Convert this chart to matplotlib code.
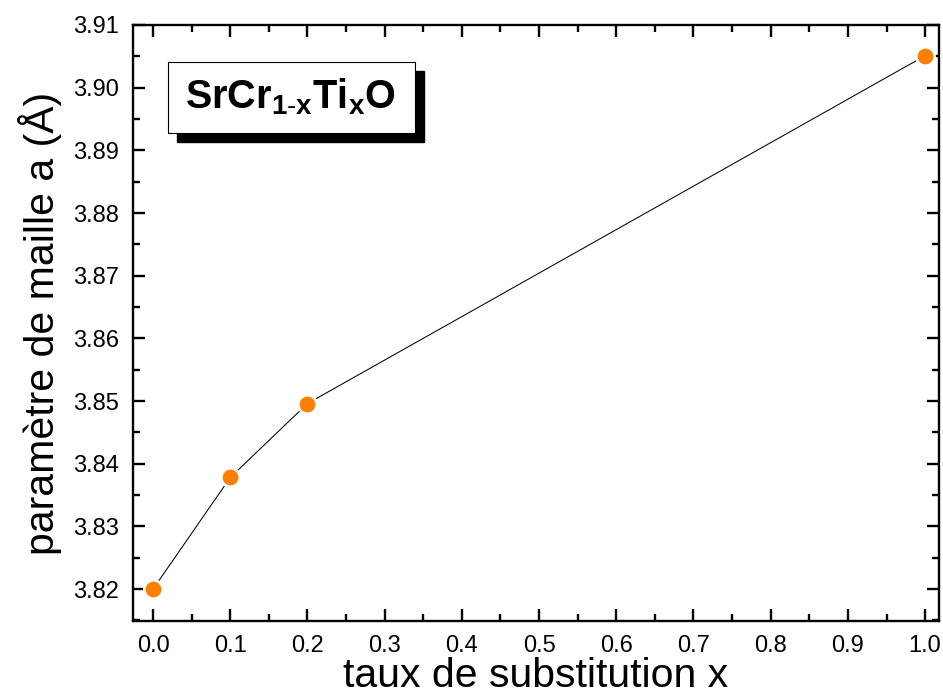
import matplotlib
matplotlib.use("Agg")
import matplotlib.pyplot as plt
from matplotlib.ticker import MultipleLocator, FormatStrFormatter
from matplotlib.patches import Rectangle

plt.rcParams['font.family'] = ['Liberation Sans', 'DejaVu Sans']
plt.rcParams['mathtext.fontset'] = 'custom'
plt.rcParams['mathtext.rm'] = 'Liberation Sans'
plt.rcParams['mathtext.bf'] = 'Liberation Sans:bold'

x_values = [0.0, 0.1, 0.2, 1.0]
a_values = [3.8200, 3.8378, 3.8496, 3.9051]
x_label = "taux de substitution x"
y_label = "paramètre de maille a (Å)"
title_text = r"$\mathbf{SrCr_{1\text{-}x}Ti_xO}$"

W, H = 943, 700
fig = plt.figure(figsize=(W / 100, H / 100), dpi=100)
ax = fig.add_axes([133 / W, 1 - 621 / H, (939 - 133) / W, (621 - 25) / H])

ax.plot(x_values, a_values, color='black', lw=0.75, zorder=2)
ax.plot(x_values, a_values, ls='none', marker='o', ms=13.2, mfc='#FF8000',
        mec='white', mew=1.8, zorder=3)

ax.set_xlim(-0.026, 1.018)
ax.set_ylim(3.8149, 3.91)
ax.xaxis.set_major_locator(MultipleLocator(0.1))
ax.xaxis.set_minor_locator(MultipleLocator(0.05))
ax.yaxis.set_major_locator(MultipleLocator(0.01))
ax.yaxis.set_minor_locator(MultipleLocator(0.005))
ax.xaxis.set_major_formatter(FormatStrFormatter('%.1f'))
ax.yaxis.set_major_formatter(FormatStrFormatter('%.2f'))
ax.tick_params(which='both', direction='in', top=True, right=True, width=1.7)
ax.tick_params(which='major', length=8.5, labelsize=17, pad=10)
ax.tick_params(which='minor', length=5)
for s in ax.spines.values():
    s.set_linewidth(1.7)
ax.set_axisbelow(False)

ax.set_xlabel(x_label, fontsize=29.5, labelpad=0)
ax.set_ylabel(y_label, fontsize=29.5, labelpad=8)

def fr(px, py):
    return px / W, 1 - py / H

bx0, by0, bx1, by1 = 168, 62, 415, 133
off = 9
sx, sy = fr(bx0 + off, by1 + off)
fig.patches.append(Rectangle((sx, sy), (bx1 - bx0) / W, (by1 - by0) / H,
                             transform=fig.transFigure, facecolor='black',
                             edgecolor='black', zorder=5))
rx, ry = fr(bx0, by1)
fig.patches.append(Rectangle((rx, ry), (bx1 - bx0) / W, (by1 - by0) / H,
                             transform=fig.transFigure, facecolor='white',
                             edgecolor='black', lw=0.8, zorder=6))
tx, ty = fr((bx0 + bx1) / 2 - 1, (by0 + by1) / 2 - 1)
fig.text(tx, ty, title_text, fontsize=28.5, ha='center', va='center', zorder=7)

fig.savefig("out.png", dpi=100)
